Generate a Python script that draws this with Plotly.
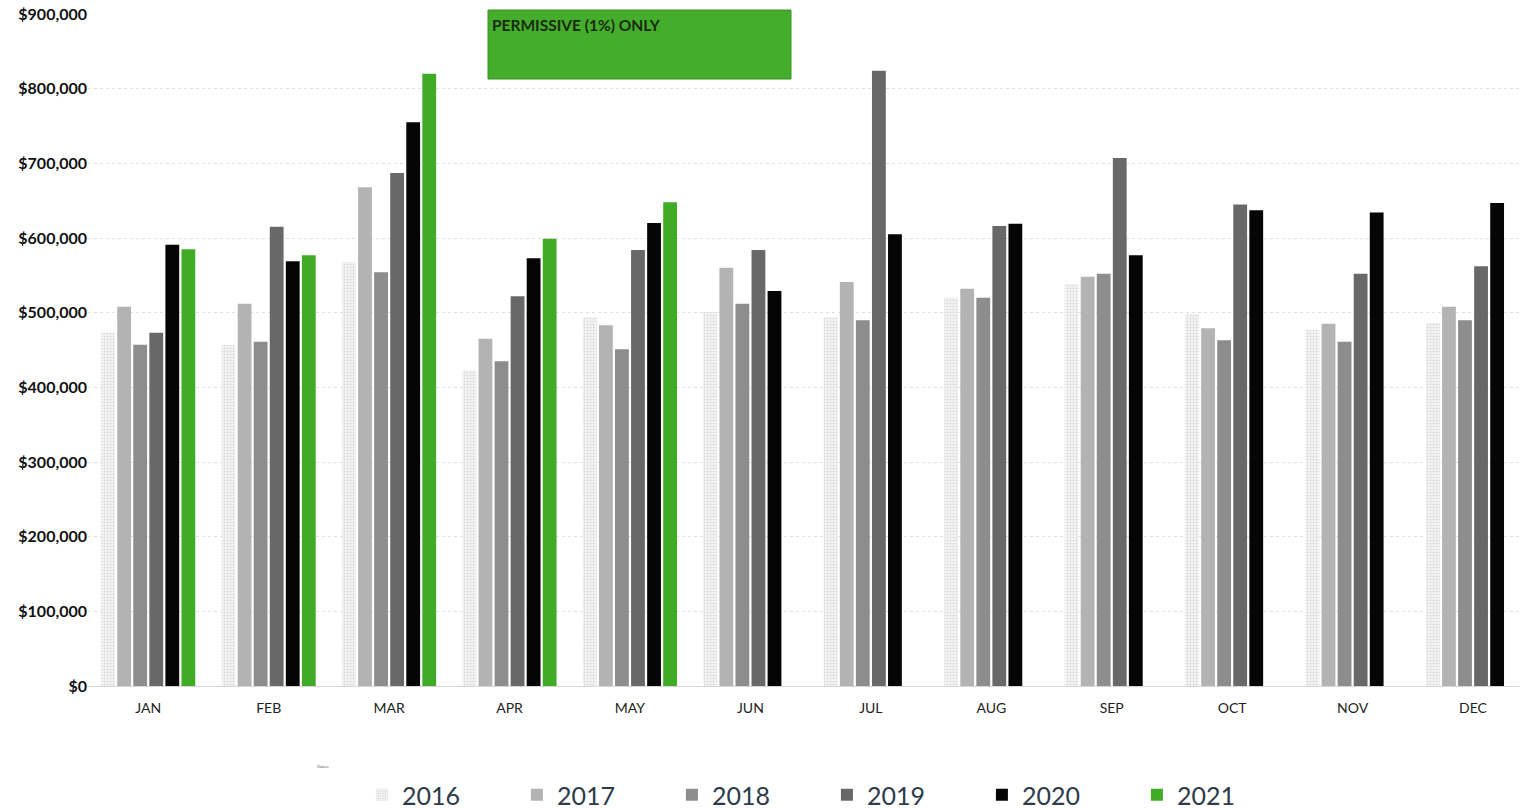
import plotly.graph_objects as go

months = ["JAN", "FEB", "MAR", "APR", "MAY", "JUN", "JUL", "AUG", "SEP", "OCT", "NOV", "DEC"]

sales_2016 = [473000, 457000, 568000, 423000, 494000, 501000, 494000, 520000, 538000, 498000, 477000, 486000]
sales_2017 = [508000, 512000, 668000, 465000, 483000, 560000, 541000, 532000, 548000, 479000, 485000, 508000]
sales_2018 = [457000, 461000, 554000, 435000, 451000, 512000, 490000, 520000, 552000, 463000, 461000, 490000]
sales_2019 = [473000, 615000, 687000, 522000, 584000, 584000, 824000, 616000, 707000, 645000, 552000, 562000]
sales_2020 = [591000, 569000, 755000, 573000, 620000, 529000, 605000, 619000, 577000, 637000, 634000, 647000]
sales_2021 = [585000, 577000, 820000, 599000, 648000, None, None, None, None, None, None, None]

years = ["2016", "2017", "2018", "2019", "2020", "2021"]
series = [sales_2016, sales_2017, sales_2018, sales_2019, sales_2020, sales_2021]
colors = ["#f1f1f1", "#b3b3b3", "#8d8d8d", "#686868", "#050505", "#3fab27"]

fig = go.Figure()
for year, vals, col in zip(years, series, colors):
    marker = dict(color=col, line=dict(width=0))
    if year == "2016":
        # faint stippled fill for the oldest year
        marker = dict(color="#f7f7f7", line=dict(width=0),
                      pattern=dict(shape=".", fgcolor="#b8b8b8", size=3, solidity=0.4))
    fig.add_trace(go.Bar(name=year, x=months, y=vals, marker=marker))

fig.update_layout(
    width=1520, height=808,
    margin=dict(l=88, r=0, t=14, b=122, autoexpand=False),
    paper_bgcolor="white", plot_bgcolor="white",
    barmode="group", bargap=0.2, bargroupgap=0.14,
    font=dict(family="Lato, 'Open Sans', sans-serif", color="#222"),
    showlegend=True,
    legend=dict(orientation="h", x=0.516, xanchor="center",
                yref="container", y=(808 - 795) / 808, yanchor="middle",
                font=dict(size=25, color="#2e3b4a", family="Lato, sans-serif"),
                entrywidth=110, entrywidthmode="pixels", traceorder="normal"),
    shapes=[dict(type="rect", xref="paper", yref="paper",
                 x0=(488 - 88) / 1432, x1=(791 - 88) / 1432,
                 y0=(686 - 79) / 672, y1=(686 - 10) / 672,
                 fillcolor="#45ad2c", line=dict(color="#3a8f25", width=1))],
    annotations=[
        dict(text="<b>PERMISSIVE (1%) ONLY</b>", xref="paper", yref="paper",
             x=(490 - 88) / 1432, y=(686 - 14) / 672, xanchor="left", yanchor="top",
             showarrow=False, font=dict(size=15.5, color="#1a2a10", family="Lato, sans-serif")),
        dict(text="Values", xref="paper", yref="paper",
             x=(315 - 88) / 1432, y=(686 - 767) / 672, xanchor="left", yanchor="middle",
             showarrow=False, font=dict(size=4, color="#555")),
    ],
)

fig.update_xaxes(range=[-0.5, 11.39], showgrid=False, showline=False, ticks="",
                 ticklabelstandoff=12,
                 tickfont=dict(size=14, color="#222", family="Lato, sans-serif"))
fig.update_yaxes(range=[0, 900000], dtick=100000, tickprefix="$", tickformat=",",
                 showgrid=True, gridcolor="#e0e0e0", griddash="dot", gridwidth=1,
                 zeroline=True, zerolinecolor="#d6d6d6", zerolinewidth=1,
                 tickfont=dict(size=16, color="#111", family="Lato, sans-serif", weight="bold"))

fig.write_html("out.html")
